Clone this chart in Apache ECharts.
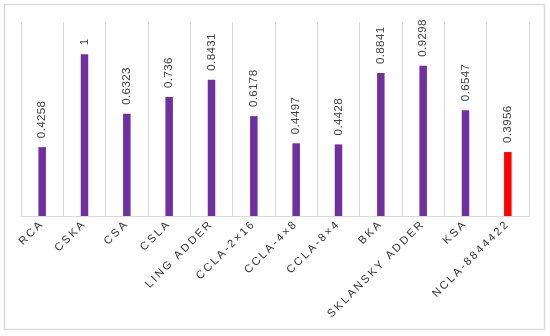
<!DOCTYPE html>
<html>
<head>
<meta charset="utf-8">
<script src="https://cdn.jsdelivr.net/npm/echarts@6/dist/echarts.min.js"></script>
<style>
html,body{margin:0;padding:0;background:#fff;}
#c{width:550px;height:336px;}
</style>
</head>
<body>
<div id="c"></div>
<script>
var categories = ['RCA','CSKA','CSA','CSLA','LING ADDER','CCLA-2\u00d716','CCLA-4\u00d78','CCLA-8\u00d74','BKA','SKLANSKY ADDER','KSA','NCLA-8844422'];
var values = [0.4258, 1, 0.6323, 0.736, 0.8431, 0.6178, 0.4497, 0.4428, 0.8841, 0.9298, 0.6547, 0.3956];
var barColors = ['#7030A0','#7030A0','#7030A0','#7030A0','#7030A0','#7030A0','#7030A0','#7030A0','#7030A0','#7030A0','#7030A0','#FF0000'];

// letter spacing for text drawn in specific fonts (canvas native)
(function(){
  var proto = CanvasRenderingContext2D.prototype;
  var orig = proto.fillText;
  proto.fillText = function(t, x, y, w){
    var f = this.font || '';
    var prev = this.letterSpacing;
    if (f.indexOf('11.1px') >= 0) { this.letterSpacing = '2.3px'; }
    else if (f.indexOf('11.5px') >= 0) { this.letterSpacing = '0.4px'; }
    var r = (w === undefined) ? orig.call(this, t, x, y) : orig.call(this, t, x, y, w);
    this.letterSpacing = prev || '0px';
    return r;
  };
})();

var chart = echarts.init(document.getElementById('c'), null, {renderer:'canvas'});
chart.setOption({
  animation: false,
  backgroundColor: '#fff',
  graphic: [{
    type: 'rect',
    shape: {x: 4.5, y: 4.5, width: 540, height: 325},
    style: {fill: 'none', stroke: '#d9d9d9', lineWidth: 1.5},
    silent: true, z: -1
  }],
  grid: {left: 21, right: 21, top: 22, bottom: 120},
  xAxis: {
    type: 'category',
    data: categories,
    axisLine: {show: true, lineStyle: {color: '#d9d9d9', width: 1}},
    axisTick: {show: false},
    splitLine: {show: true, lineStyle: {color: '#d9d9d9', width: 1}},
    axisLabel: {
      interval: 0, rotate: 45, margin: 6,
      color: '#333333', fontSize: 11.1, fontFamily: 'Liberation Sans'
    }
  },
  yAxis: {
    type: 'value', min: 0, max: 1.2,
    show: false, splitLine: {show: false}
  },
  series: [{
    type: 'bar',
    data: values.map(function(v, i){ return {value: v, itemStyle: {color: barColors[i]}}; }),
    barWidth: 7.5,
    label: {
      show: true, position: 'top', rotate: 90, distance: 9,
      align: 'left', verticalAlign: 'middle',
      color: '#404040', fontSize: 11.5, fontFamily: 'Liberation Sans'
    }
  }]
});
</script>
</body>
</html>
